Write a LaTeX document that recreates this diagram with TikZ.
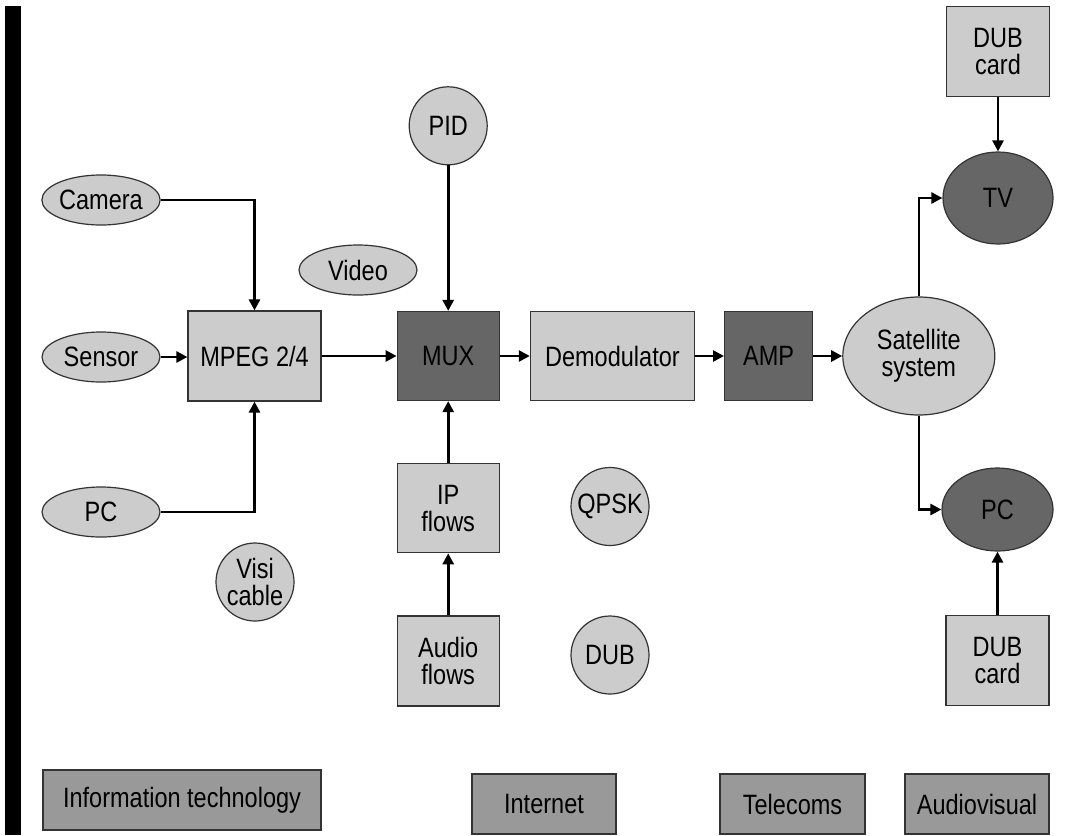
\documentclass[tikz,border=0pt]{standalone}
\usepackage{fontspec}
\setmainfont{Liberation Sans}[FakeStretch=0.84]
\usepackage{xcolor}
\usetikzlibrary{positioning,arrows.meta,shapes.geometric}
\definecolor{lightgrey}{HTML}{CCCCCC}
\definecolor{darkgrey}{HTML}{666666}
\definecolor{midgrey}{HTML}{999999}

\begin{document}
\begin{tikzpicture}[
  x=0.5pt, y=-0.5pt,
  unit/.style={draw=black!80, line width=0.6pt, inner sep=0pt, align=center,
               font=\fontsize{14}{13.5}\selectfont},
  lbox/.style={unit, rectangle, fill=lightgrey},
  dbox/.style={unit, rectangle, fill=darkgrey},
  catbox/.style={unit, rectangle, fill=midgrey, minimum height=30pt},
  src/.style={unit, ellipse, fill=lightgrey, minimum width=59pt, minimum height=25pt},
  disc/.style={unit, circle, fill=lightgrey, minimum size=39pt},
  sink/.style={unit, ellipse, fill=darkgrey},
  link/.style={-{Triangle[length=5.5pt,width=5.5pt]}, line width=1.3pt},
]
  \useasboundingbox (0,0) rectangle (1068,835);
  \fill (5,6) rectangle (21,835);

  % main chain
  \node[lbox, minimum width=66.5pt, minimum height=45pt] (mpeg) at (254.5,356) {MPEG 2/4};
  \node[dbox, minimum width=51pt, minimum height=44.5pt, right=37.5pt of mpeg] (mux) {MUX};
  \node[lbox, minimum width=82pt, minimum height=44.5pt, right=15pt of mux] (demod) {Demodulator};
  \node[dbox, minimum width=44pt, minimum height=44.5pt, right=14.5pt of demod] (amp) {AMP};
  \node[unit, ellipse, fill=lightgrey, minimum width=76pt, minimum height=59pt,
        right=14.5pt of amp] (sat) {Satellite\\system};

  % sources
  \node[src] (camera) at (101,200) {Camera};
  \node[src] (sensor) at (101,357) {Sensor};
  \node[src] (pcin) at (101,512) {PC};
  \node[src] (video) at (358,270) {Video};
  \node[disc] (visi) at (255,582) {Visi\\cable};
  \node[disc, above=72.75pt of mux] (pid) {PID};
  \node[lbox, minimum width=51pt, minimum height=44.5pt, below=31pt of mux] (ipflows) {IP\\flows};
  \node[lbox, minimum width=51pt, minimum height=45pt, below=31pt of ipflows] (audio) {Audio\\flows};
  \node[disc] (qpsk) at (610,506.5) {QPSK};
  \node[disc] (dub) at (610,655) {DUB};

  % receivers
  \node[sink, minimum width=55pt, minimum height=46pt] (tv) at (998,198) {TV};
  \node[lbox, minimum width=51.5pt, minimum height=45pt, above=27pt of tv] (cardtop) {DUB\\card};
  \node[sink, minimum width=55.5pt, minimum height=41.5pt] (pcout) at (997.5,509.5) {PC};
  \node[lbox, minimum width=51.5pt, minimum height=45pt, below=31.5pt of pcout] (cardbot) {DUB\\card};

  % sectors
  \node[catbox, minimum width=139pt] (infotech) at (182,800) {Information technology};
  \node[catbox, minimum width=72pt] (internet) at (544,804) {Internet};
  \node[catbox, minimum width=72.5pt] (telecoms) at (792.5,804) {Telecoms};
  \node[catbox, minimum width=72pt] (audiovis) at (977,804) {Audiovisual};

  \draw[link] (camera) -| (mpeg);
  \draw[link] (sensor.east) -- (sensor.east -| mpeg.west);
  \draw[link] (pcin) -| (mpeg);
  \draw[link] (mpeg) -- (mux);
  \draw[link] (pid) -- (mux);
  \draw[link] (ipflows) -- (mux);
  \draw[link] (audio) -- (ipflows);
  \draw[link] (mux) -- (demod);
  \draw[link] (demod) -- (amp);
  \draw[link] (amp) -- (sat);
  \draw[link] (sat) |- (tv);
  \draw[link] (sat) |- (pcout);
  \draw[link] (cardtop) -- (tv);
  \draw[link] (cardbot) -- (pcout);
\end{tikzpicture}
\end{document}
